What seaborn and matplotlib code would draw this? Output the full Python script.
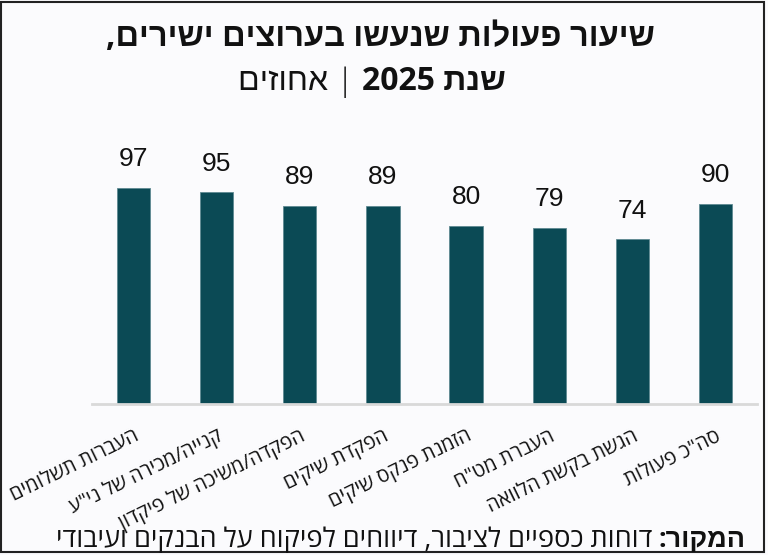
import re
import matplotlib
matplotlib.use('Agg')
import matplotlib.pyplot as plt
import seaborn as sns
import pandas as pd
from matplotlib.patches import Rectangle

# נתונים
categories = ['העברות תשלומים', 'קנייה/מכירה של ני"ע', 'הפקדה/משיכה של פיקדון',
              'הפקדת שיקים', 'הזמנת פנקס שיקים', 'העברת מט"ח',
              'הגשת בקשת הלוואה', 'סה"כ פעולות']
values = [97, 95, 89, 89, 80, 79, 74, 90]

title_line1 = 'שיעור פעולות שנעשו בערוצים ישירים,'
title_bold = 'שנת 2025'
title_light = 'אחוזים'
source_bold = 'המקור:'
source_text = 'דוחות כספיים לציבור, דיווחים לפיקוח על הבנקים ועיבודי'

BAR = '#0b4a55'
BG = '#fbfbfd'
HEB = ['Open Sans', 'Liberation Sans', 'DejaVu Sans']
NUM = ['Liberation Sans Narrow', 'Liberation Sans', 'DejaVu Sans']


def rtl(s):
    # matplotlib has no bidi: reverse the string, keep digit runs in order
    return re.sub(r'\d+', lambda m: m.group()[::-1], s[::-1])


sns.set_style('white')
plt.rcParams['font.family'] = HEB

df = pd.DataFrame({'cat': [rtl(c) for c in categories], 'val': values})

fig = plt.figure(figsize=(7.68, 5.55), dpi=100, facecolor=BG)
ax = fig.add_axes([92 / 768, 151 / 555, 665 / 768, 245 / 555])
ax.set_facecolor(BG)

sns.barplot(data=df, x='cat', y='val', color=BAR, width=0.4, saturation=1,
            edgecolor='#5f8a92', linewidth=0.6, ax=ax)
ax.set_xlim(-0.5, len(values) - 0.5)
ax.set_ylim(0, 110)
ax.set_xlabel('')
ax.set_ylabel('')
ax.set_yticks([])
sns.despine(ax=ax, left=True)
ax.spines['bottom'].set_color('#d9d9d9')
ax.spines['bottom'].set_linewidth(2)

for i, v in enumerate(values):
    ax.annotate(str(v), (i, v), xytext=(0, 12), textcoords='offset points',
                ha='center', va='bottom', fontsize=19, color='#111111',
                family=NUM)

ax.tick_params(axis='x', length=0, pad=16)
for lab in ax.get_xticklabels():
    lab.set_rotation(26)
    lab.set_ha('right')
    lab.set_va('top')
    lab.set_rotation_mode('anchor')
    lab.set_fontsize(14.5)
    lab.set_color('#111111')

# כותרת
fig.text(380 / 768, 1 - 37 / 555, rtl(title_line1), ha='center', va='center',
         fontsize=23.5, fontweight='bold', color='#111111')

fig.canvas.draw()
r = fig.canvas.get_renderer()
pieces = [(rtl(title_light) + ' | ', 'light'), (rtl(title_bold), 'bold')]
objs = [fig.text(0, 1 - 82 / 555, p, ha='left', va='center', fontsize=23,
                 fontweight=w, color='#111111') for p, w in pieces]
widths = [o.get_window_extent(r).width for o in objs]
x = 372 - sum(widths) / 2
for o, w in zip(objs, widths):
    o.set_x(x / 768)
    x += w

# מקור
sb = fig.text(745 / 768, 8 / 555, rtl(source_bold), ha='right', va='baseline',
              fontsize=19.5, fontweight='bold', color='#111111')
fig.canvas.draw()
bw = sb.get_window_extent(r).width
fig.text((745 - bw - 6) / 768, 8 / 555, rtl(source_text), ha='right',
         va='baseline', fontsize=19.5, color='#111111')

# מסגרת
fig.patches.append(Rectangle((1 / 768, 3 / 555), 763 / 768, 550 / 555,
                             transform=fig.transFigure, fill=False,
                             edgecolor='#222222', linewidth=1.5))

fig.savefig('out.png', dpi=100, facecolor=BG)
